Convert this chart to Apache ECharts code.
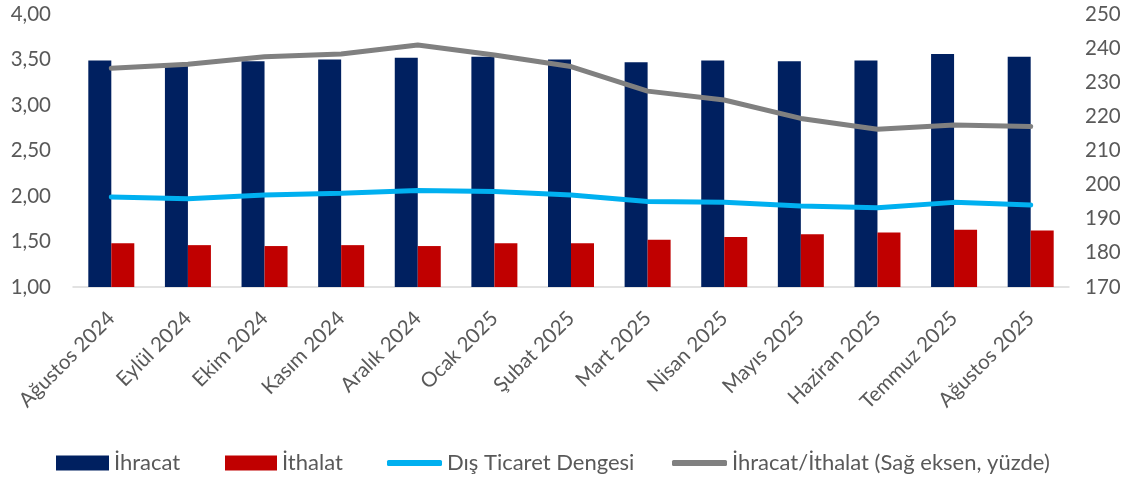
<!DOCTYPE html>
<html><head><meta charset="utf-8">
<script src="https://cdn.jsdelivr.net/npm/echarts@6/dist/echarts.min.js"></script>
<style>html,body{margin:0;padding:0;background:#fff}#c{width:1129px;height:479px}</style>
</head><body><div id="c"></div>
<script>
const categories = ['Ağustos 2024','Eylül 2024','Ekim 2024','Kasım 2024','Aralık 2024','Ocak 2025','Şubat 2025','Mart 2025','Nisan 2025','Mayıs 2025','Haziran 2025','Temmuz 2025','Ağustos 2025'];
const ihracat = [3.49,3.44,3.48,3.50,3.52,3.53,3.50,3.47,3.49,3.48,3.49,3.56,3.53];
const ithalat = [1.48,1.46,1.45,1.46,1.45,1.48,1.48,1.52,1.55,1.58,1.60,1.63,1.62];
const denge = [1.99,1.97,2.01,2.03,2.06,2.05,2.01,1.94,1.93,1.89,1.87,1.93,1.90];
const oran = [234.1,235.3,237.5,238.3,240.9,238.0,234.6,227.4,224.8,219.4,216.2,217.5,217.0];

const FONT = 'Lato';
const TXT = '#595959';
const chart = echarts.init(document.getElementById('c'));
const legendBase = {bottom: 0, textStyle:{fontFamily:FONT, fontSize:22, color:TXT}, itemGap: 0, selectedMode:false};
chart.setOption({
  animation: false,
  grid: {left: 73, right: 60, top: 14, bottom: 192, containLabel: false},
  legend: [
    Object.assign({}, legendBase, {left: 51, data:[{name:'İhracat', icon:'rect'}], itemWidth:53, itemHeight:15}),
    Object.assign({}, legendBase, {left: 220, data:[{name:'İthalat', icon:'rect'}], itemWidth:52, itemHeight:15}),
    Object.assign({}, legendBase, {left: 382, data:[{name:'Dış Ticaret Dengesi', icon:'roundRect', itemStyle:{color:'#00B0F0'}}], itemWidth:55, itemHeight:6}),
    Object.assign({}, legendBase, {left: 667, data:[{name:'İhracat/İthalat (Sağ eksen, yüzde)', icon:'roundRect', itemStyle:{color:'#808080'}}], itemWidth:55, itemHeight:6})
  ],
  xAxis: {
    type: 'category', data: categories,
    axisLine: {lineStyle:{color:'#d9d9d9', width:1.5}},
    axisTick: {show:false},
    axisLabel: {rotate:45, interval:0, fontFamily:FONT, fontSize:20.5, color:TXT, margin:28}
  },
  yAxis: [
    {type:'value', min:1, max:4, interval:0.5, splitLine:{show:false}, axisLine:{show:false}, axisTick:{show:false},
     axisLabel:{fontFamily:FONT, fontSize:20.5, color:TXT, margin:22, formatter: v => v.toFixed(2).replace('.', ',')}},
    {type:'value', min:170, max:250, interval:10, splitLine:{show:false}, axisLine:{show:false}, axisTick:{show:false},
     axisLabel:{fontFamily:FONT, fontSize:20.5, color:TXT, margin:16}}
  ],
  series: [
    {name:'İhracat', type:'bar', data: ihracat, barWidth:23, barGap:'0%', itemStyle:{color:'#002060'}},
    {name:'İthalat', type:'bar', data: ithalat, barWidth:23, barGap:'0%', itemStyle:{color:'#C00000'}},
    {name:'Dış Ticaret Dengesi', type:'line', data: denge, symbol:'none', lineStyle:{color:'#00B0F0', width:5, cap:'round'}, itemStyle:{color:'#00B0F0'}},
    {name:'İhracat/İthalat (Sağ eksen, yüzde)', type:'line', yAxisIndex:1, data: oran, symbol:'none', lineStyle:{color:'#808080', width:5, cap:'round'}, itemStyle:{color:'#808080'}}
  ]
});
</script></body></html>
